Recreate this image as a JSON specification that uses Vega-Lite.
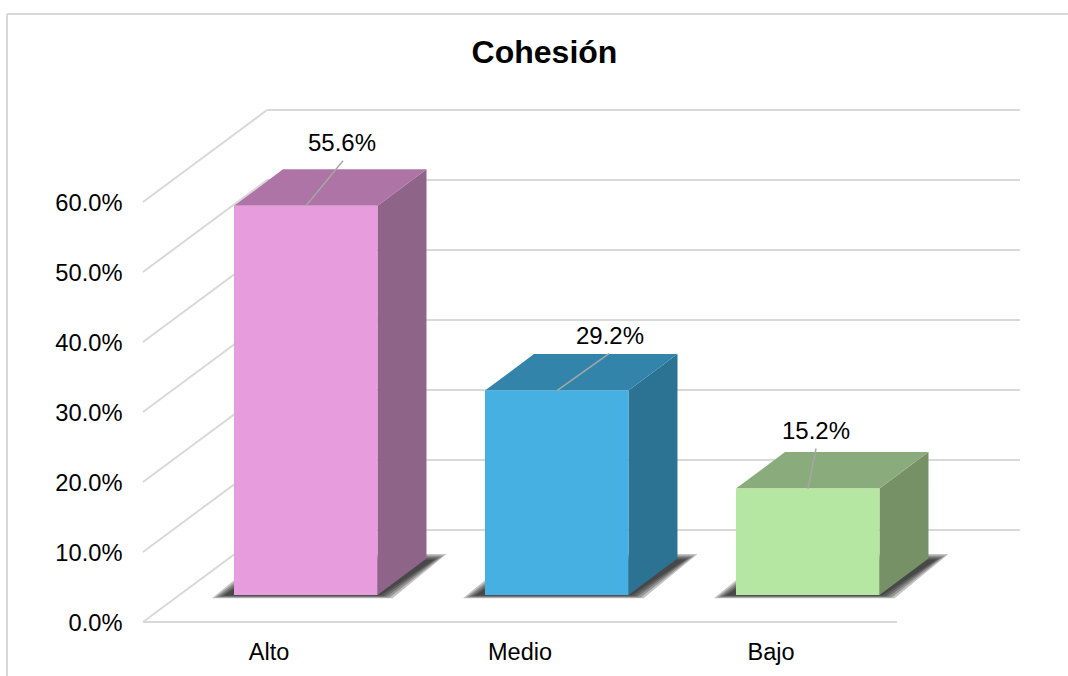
{
"$schema":"https://vega.github.io/schema/vega-lite/v6.json",
"width":877,"height":512,
"autosize":{"type":"none"},
"padding":{"left":143,"top":110,"right":48,"bottom":54},
"background":"white",
"title":{"text":"Cohesión","font":"Liberation Sans","fontSize":32,"fontWeight":"bold","color":"#000000","anchor":"middle","dx":-37,"offset":-57},
"config":{"view":{"stroke":null},"text":{"font":"Liberation Sans"}},
"datasets":{
"barras":[{"categoria":"Alto","valor":55.6},{"categoria":"Medio","valor":29.2},{"categoria":"Bajo","valor":15.2}],
"rejilla":[{"v":0},{"v":10},{"v":20},{"v":30},{"v":40},{"v":50},{"v":60}]
},
"data":{"name":"barras"},
"transform":[
{"window":[{"op":"row_number","as":"rn"}]},
{"calculate":"datum.rn-1+0.3625","as":"xl"},
{"calculate":"datum.xl+0.5717","as":"xr"},
{"calculate":"datum.xl+0.2869","as":"xc"},
{"calculate":"3.857","as":"base"},
{"calculate":"datum.base+datum.valor","as":"top"}
],
"layer":[
{"data":{"name":"rejilla"},"transform":[{"calculate":"0","as":"a"},{"calculate":"0.494","as":"b"},{"calculate":"3.494","as":"c"},{"calculate":"datum.v+13.143","as":"w"}],
 "mark":{"type":"rule","color":"#D9D9D9","strokeWidth":2},
 "encoding":{"x":{"field":"a","type":"quantitative","scale":{"domain":[0,3.494],"nice":false,"zero":false},
   "axis":{"title":null,"domain":false,"ticks":false,"grid":false,"values":[0.5,1.5,2.5],"labelExpr":"datum.value==0.5?'Alto':datum.value==1.5?'Medio':'Bajo'","labelFont":"Liberation Sans","labelFontSize":23.5,"labelColor":"#000000","labelPadding":18,"labelFlush":false}},
  "x2":{"field":"b"},
  "y":{"field":"v","type":"quantitative","scale":{"domain":[0,73.143],"nice":false,"zero":false},
   "axis":{"title":null,"domain":false,"ticks":false,"grid":false,"values":[0,10,20,30,40,50,60],"labelExpr":"format(datum.value,'.1f')+'%'","labelFont":"Liberation Sans","labelFontSize":23.7,"labelColor":"#000000","labelPadding":21,"labelOffset":1.5,"labelFlush":false}},
  "y2":{"field":"w"}}},
{"data":{"values":[{}]},"mark":{"type":"rule","color":"#D9D9D9","strokeWidth":2},
 "encoding":{"x":{"datum":-0.5418,"type":"quantitative"},"x2":{"datum":3.685},"y":{"datum":86.857,"type":"quantitative"}}},
{"data":{"values":[{}]},"mark":{"type":"rule","color":"#D9D9D9","strokeWidth":2},
 "encoding":{"x":{"datum":-0.5418,"type":"quantitative"},"y":{"datum":86.857,"type":"quantitative"},"y2":{"datum":-7.8}}},
{"data":{"values":[{}]},"mark":{"type":"rule","color":"#D9D9D9","strokeWidth":2},
 "encoding":{"x":{"datum":0,"type":"quantitative"},"x2":{"datum":3.004},"y":{"datum":0,"type":"quantitative"}}},
{"data":{"name":"rejilla"},"transform":[{"calculate":"0.494","as":"b"},{"calculate":"3.494","as":"c"},{"calculate":"datum.v+13.143","as":"w"}],
 "mark":{"type":"rule","color":"#D9D9D9","strokeWidth":2},
 "encoding":{"x":{"field":"b","type":"quantitative"},"x2":{"field":"c"},"y":{"field":"w","type":"quantitative"}}},
{"transform":[
 {"calculate":"[0,1]","as":"t"},{"flatten":["t"]},
 {"calculate":"[0,0.012,0.024,0.036,0.048]","as":"ins"},{"flatten":["ins"]},
 {"calculate":"datum.categoria+datum.ins","as":"sid"},
 {"calculate":"datum.xl-0.0876+datum.ins+datum.t*0.215","as":"sx"},
 {"calculate":"datum.xr+0.06-datum.ins+datum.t*0.215","as":"sx2"},
 {"calculate":"3.4+datum.ins*8+datum.t*(6.3-datum.ins*24)","as":"sy"}],
 "mark":{"type":"area","orient":"horizontal","color":"#111111","opacity":0.25},
 "encoding":{"y":{"field":"sy","type":"quantitative","stack":null},"x":{"field":"sx","type":"quantitative","stack":null},"x2":{"field":"sx2"},"detail":{"field":"sid","type":"nominal"}}},
{"transform":[
 {"calculate":"[0,1]","as":"t"},{"flatten":["t"]},
 {"calculate":"datum.xr+datum.t*0.1952","as":"px"},
 {"calculate":"datum.top+datum.t*5.214","as":"py"},
 {"calculate":"datum.base+datum.t*5.214","as":"py2"}],
 "mark":{"type":"area","opacity":1},
 "encoding":{"x":{"field":"px","type":"quantitative"},"y":{"field":"py","type":"quantitative","stack":null},"y2":{"field":"py2"},
  "color":{"field":"categoria","type":"nominal","legend":null,"scale":{"domain":["Alto","Medio","Bajo"],"range":["#8F6489","#2C7293","#769165"]}}}},
{"transform":[
 {"calculate":"[0,1]","as":"t"},{"flatten":["t"]},
 {"calculate":"datum.top+datum.t*5.214","as":"py"},
 {"calculate":"datum.xl+datum.t*0.1952","as":"px"},
 {"calculate":"datum.xr+datum.t*0.1952","as":"px2"}],
 "mark":{"type":"area","orient":"horizontal","opacity":1},
 "encoding":{"y":{"field":"py","type":"quantitative"},"x":{"field":"px","type":"quantitative","stack":null},"x2":{"field":"px2"},
  "color":{"field":"categoria","type":"nominal","legend":null,"scale":{"domain":["Alto","Medio","Bajo"],"range":["#AD74A5","#3384AB","#8AAC7C"]}}}},
{"mark":{"type":"rect"},
 "encoding":{"x":{"field":"xl","type":"quantitative"},"x2":{"field":"xr"},"y":{"field":"top","type":"quantitative"},"y2":{"field":"base"},
  "color":{"field":"categoria","type":"nominal","legend":null,"scale":{"domain":["Alto","Medio","Bajo"],"range":["#E79CDD","#45B0E1","#B5E6A2"]}}}},
{"transform":[
 {"calculate":"datum.xc+[37,52,8][datum.rn-1]/251","as":"lx"},
 {"calculate":"datum.top+[45,37,40][datum.rn-1]/7","as":"ly"}],
 "mark":{"type":"rule","color":"#A6A6A6","strokeWidth":1.5},
 "encoding":{"x":{"field":"xc","type":"quantitative"},"x2":{"field":"lx"},"y":{"field":"top","type":"quantitative"},"y2":{"field":"ly"}}},
{"transform":[
 {"calculate":"datum.xc+[36,53,8][datum.rn-1]/251","as":"tx"},
 {"calculate":"datum.top+[62,54,57][datum.rn-1]/7","as":"ty"},
 {"calculate":"format(datum.valor,'.1f')+'%'","as":"etiqueta"}],
 "mark":{"type":"text","fontSize":24,"color":"#000000","font":"Liberation Sans","baseline":"middle","align":"center"},
 "encoding":{"x":{"field":"tx","type":"quantitative"},"y":{"field":"ty","type":"quantitative"},"text":{"field":"etiqueta"}}}
],
"resolve":{"scale":{"color":"independent"}}
}
